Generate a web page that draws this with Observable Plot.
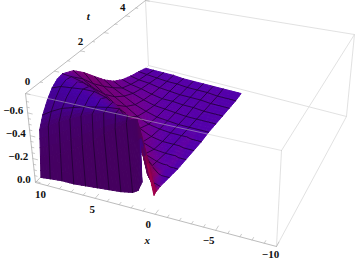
<!DOCTYPE html>
<html>
<head>
<meta charset="utf-8">
<script src="https://cdn.jsdelivr.net/npm/d3@7"></script>
<script src="https://cdn.jsdelivr.net/npm/@observablehq/plot@0.6"></script>
<style>html,body{margin:0;padding:0;background:#fff}svg{display:block}</style>
</head>
<body>
<div id="chart"></div>
<script>
const xGrid = [9.8,9,8,7,6,5,4,3,2,1.5,1.1,0.85,0.5,0.2];
const tGrid = [0.12,0.18,0.25,0.4,0.6,0.8,1,1.2,1.6,2,2.4,2.8,3.2,3.6,4,4.4,4.75];
const xMesh = [9,8,7,6,5,4,3,2];
const tMesh = [0.4,0.8,1.2,1.6,2,2.4,2.8,3.2,3.6,4,4.4];
const depth = [
[.01,.02,.03,.03,.04,.05,.06,.07,.09,.12,.20,.55,.36,.11],
[.18,.21,.25,.31,.38,.44,.52,.59,.66,.70,.71,.58,.36,.12],
[.40,.45,.51,.56,.61,.65,.68,.70,.71,.64,.42,.24,.16,.12],
[.50,.55,.60,.63,.66,.68,.70,.71,.58,.42,.22,.14,.13,.12],
[.59,.63,.66,.68,.70,.71,.70,.63,.40,.24,.14,.12,.11,.11],
[.66,.69,.70,.71,.71,.68,.60,.44,.22,.15,.11,.10,.10,.10],
[.70,.71,.71,.69,.64,.55,.41,.22,.11,.10,.09,.09,.09,.09],
[.71,.70,.67,.62,.55,.43,.28,.14,.10,.09,.09,.08,.08,.08],
[.66,.60,.53,.44,.34,.22,.13,.09,.08,.08,.08,.07,.07,.07],
[.56,.47,.39,.31,.22,.14,.09,.07,.07,.07,.06,.06,.06,.06],
[.44,.36,.28,.21,.14,.09,.07,.06,.06,.06,.05,.05,.05,.05],
[.32,.26,.20,.14,.10,.07,.06,.05,.05,.05,.05,.05,.05,.05],
[.22,.17,.14,.10,.07,.06,.05,.04,.04,.04,.04,.04,.04,.04],
[.15,.12,.10,.07,.05,.05,.04,.04,.03,.03,.03,.03,.03,.03],
[.10,.08,.07,.05,.04,.03,.03,.03,.02,.02,.02,.02,.02,.02],
[.06,.05,.04,.03,.03,.02,.02,.02,.01,.01,.01,.01,.01,.01],
[.02,.02,.02,.02,.01,.01,.01,.01,.01,.01,.01,.01,.01,.01]
];
const xLabels = [10,5,0,-5,-10];
const tLabels = [0,2,4];
const zLabels = [0,-0.2,-0.4,-0.6];
const xMinor = d3.range(-10,10.5,1);
const tMinor = d3.range(0,5.01,0.5);
const zMinor = d3.range(0,-0.71,-0.05);
const xBox = [10,-10], tBox = [0,5], zBox = [0.01,-0.77];

const floor = {o:[35,182],u:[276,246],v:[148,65],a:0.987,b:1.222};
const lid   = {o:[25,93], u:[281,150],v:[145,0], a:0.880,b:1.267};
function plane(p,u,v){
  const h = 1+(p.a-1)*u+(p.b-1)*v, k = 1-u-v;
  return [0,1].map(i => (p.o[i]*k+p.a*u*p.u[i]+p.b*v*p.v[i])/h);
}
function project(x,t,z){
  const u=(10-x)/20, v=t/5, w=(zBox[0]-z)/(zBox[0]-zBox[1]);
  const a=plane(floor,u,v), b=plane(lid,u,v);
  return {px:a[0]+(b[0]-a[0])*w, py:a[1]+(b[1]-a[1])*w};
}
const sx=2/20, st=1/5, sz=0.6/0.77;
const nI=xGrid.length, nJ=tGrid.length;
function vertexNormal(i,j){
  const a=Math.max(i-1,0), b=Math.min(i+1,nI-1), c=Math.max(j-1,0), e=Math.min(j+1,nJ-1);
  const dX=(depth[j][b]-depth[j][a])*sz/((xGrid[a]-xGrid[b])*sx);
  const dT=(depth[e][i]-depth[c][i])*sz/((tGrid[e]-tGrid[c])*st);
  const n=Math.hypot(dX,dT,1);
  return {nx:-dX/n, nh:1/n};
}
const normals=tGrid.map((_,j)=>xGrid.map((_,i)=>vertexNormal(i,j)));
function tint(nx,nh){
  const r=Math.max(.27,Math.min(.68,.2+.13*nh+.42*nx));
  const b=Math.max(.3,Math.min(.72,.36+.31*nh-.2*nx));
  return `rgb(${Math.round(r*255)},0,${Math.round(b*255)})`;
}
const cells=[]; let id=0;
const add=(pts,fill,stroke,sw)=>{id++;pts.forEach(p=>cells.push({...p,id,fill,stroke,sw}));};
const meshColor="#200032";
const sub=3;
const mix=(a,b,f)=>a+(b-a)*f;
for(let j=nJ-2;j>=0;j--){
  for(let i=0;i<nI-1;i++){
    const Q=(fi,fj)=>{
      const x=mix(xGrid[i],xGrid[i+1],fi), t=mix(tGrid[j],tGrid[j+1],fj);
      const d=mix(mix(depth[j][i],depth[j][i+1],fi),mix(depth[j+1][i],depth[j+1][i+1],fi),fj);
      return project(x,t,-d);
    };
    const C=(fi,fj)=>{
      const f=k=>mix(mix(normals[j][i][k],normals[j][i+1][k],fi),mix(normals[j+1][i][k],normals[j+1][i+1][k],fi),fj);
      return tint(f("nx"),f("nh"));
    };
    for(let b=sub-1;b>=0;b--) for(let a=0;a<sub;a++){
      const c=C((a+.5)/sub,(b+.5)/sub);
      add([Q(a/sub,b/sub),Q((a+1)/sub,b/sub),Q((a+1)/sub,(b+1)/sub),Q(a/sub,(b+1)/sub),Q(a/sub,b/sub)],c,c,1);
    }
    if(xMesh.includes(xGrid[i])) add([Q(0,0),Q(0,1)],"none",meshColor,0.8);
    if(tMesh.includes(tGrid[j+1])) add([Q(0,1),Q(1,1)],"none",meshColor,0.8);
  }
}
const seg=(a,b)=>[project(...a),project(...b)];
const [xa,xb]=xBox,[t0,t1]=tBox,[zb,zt]=zBox;
const backBox=[
  seg([xa,t1,zb],[xa,t1,zt]),seg([xa,t1,zt],[xb,t1,zt]),seg([xb,t1,zb],[xb,t1,zt]),
  seg([xa,t1,zb],[xb,t1,zb]),seg([xb,t0,zb],[xb,t1,zb]),seg([xa,t0,zb],[xa,t1,zb]),
  seg([xb,t0,zt],[xb,t1,zt]),seg([xb,t0,zb],[xb,t0,zt])
];
const frontBox=[seg([xa,t0,zt],[xb,t0,zt])];
const axesLines=[seg([xa,t0,zb],[xb,t0,zb]),seg([xa,t0,zb],[xa,t0,zt]),seg([xa,t0,zt],[xa,t1,zt])];
const tickSegs=[
  ...xMinor.map(x=>seg([x,0,zb],[x,x%5===0?0.14:0.08,zb])),
  ...zMinor.map(z=>seg([10,0,z],[Math.abs(z*10)%2<0.01||Math.abs(z*10)%2>1.99?9.6:9.8,0,z])),
  ...tMinor.map(t=>seg([10,t,zt],[t%1===0?9.6:9.8,t,zt]))
];
const flat=(list)=>list.flatMap((s,k)=>s.map(p=>({...p,k})));
const fmt=v=>(v<0?"\u2212":"")+Math.abs(v);
const font={fontFamily:"Liberation Serif",fontWeight:"bold",fontSize:11,fill:"#111"};
const xOff=[[5,12],[-3,11],[-7,10],[-7,10],[-6,8]];
const tOff=[[2,-12],[0,-9],[-3,-8]];
const label=(p,s,o,extra={})=>Plot.text([{...p,s}],{x:"px",y:"py",text:"s",dx:o[0],dy:o[1],...font,...extra});
const chart=Plot.plot({
  width:355,height:260,margin:0,
  x:{domain:[0,355],range:[0,355],axis:null},
  y:{domain:[0,260],range:[0,260],axis:null},
  marks:[
    Plot.line(flat(backBox),{x:"px",y:"py",z:"k",stroke:"#dedede",strokeWidth:0.9}),
    Plot.line(cells,{x:"px",y:"py",z:"id",
      fill:{value:"fill",scale:null},stroke:{value:"stroke",scale:null},strokeWidth:"sw",curve:"linear"}),
    Plot.line(flat(frontBox),{x:"px",y:"py",z:"k",stroke:"#c8c8c8",strokeOpacity:.55,strokeWidth:0.9}),
    Plot.line(flat(axesLines),{x:"px",y:"py",z:"k",stroke:"#bdbdbd",strokeWidth:1}),
    Plot.line(flat(tickSegs),{x:"px",y:"py",z:"k",stroke:"#b5b5b5",strokeWidth:0.7}),
    ...xLabels.map((v,i)=>label(project(v,0,zb),fmt(v),xOff[i])),
    ...tLabels.map((v,i)=>label(project(10,v,zt),fmt(v),tOff[i])),
    ...zLabels.map(v=>label(project(10,0,v),(v<0?"\u2212":"")+Math.abs(v).toFixed(1),[-4.5,-2],{textAnchor:"end"})),
    label(project(1,0,zb),"x",[4,29],{fontStyle:"italic"}),
    label(project(10,3.1,zt),"t",[-18,-14],{fontStyle:"italic"})
  ]
});
document.getElementById("chart").append(chart);
</script>
</body>
</html>
